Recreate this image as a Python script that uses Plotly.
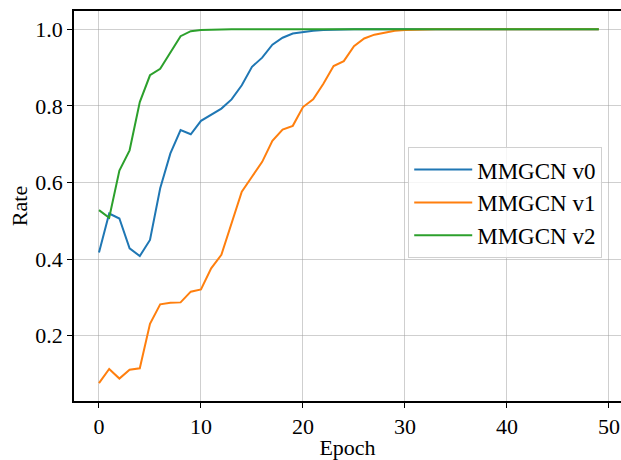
import plotly.graph_objects as go

epochs = list(range(50))

v0 = [0.417, 0.519, 0.506, 0.428, 0.408, 0.45, 0.585, 0.676, 0.737, 0.726,
      0.761, 0.776, 0.793, 0.817, 0.854, 0.902, 0.926, 0.960, 0.978, 0.989,
      0.993, 0.996, 0.998, 0.999] + [1.0] * 26

v1 = [0.076, 0.113, 0.088, 0.111, 0.115, 0.231, 0.282, 0.286, 0.287, 0.315,
      0.321, 0.376, 0.411, 0.493, 0.576, 0.615, 0.654, 0.709, 0.738, 0.748,
      0.797, 0.817, 0.858, 0.904, 0.917, 0.956, 0.976, 0.986, 0.992, 0.996,
      0.998, 0.999] + [1.0] * 18

v2 = [0.528, 0.508, 0.631, 0.684, 0.810, 0.880, 0.897, 0.941, 0.982, 0.995,
      0.998, 0.999] + [1.0] * 38

series = [("MMGCN v0", v0, "#1f77b4"),
          ("MMGCN v1", v1, "#ff7f0e"),
          ("MMGCN v2", v2, "#2ca02c")]

x_ticks = [0, 10, 20, 30, 40, 50]
y_ticks = [0.2, 0.4, 0.6, 0.8, 1.0]

FONT = "Liberation Serif, Times New Roman, serif"

fig = go.Figure()
for name, vals, color in series:
    fig.add_trace(go.Scatter(x=epochs, y=vals, mode="lines", name=name,
                             line=dict(color=color, width=2)))

fig.update_layout(
    width=621, height=460,
    margin=dict(l=74, r=0, t=11, b=59),
    paper_bgcolor="white", plot_bgcolor="white",
    font=dict(family=FONT, size=22, color="black"),
    showlegend=True,
    legend=dict(x=0.611, y=0.651, xanchor="left", yanchor="top",
                bgcolor="rgba(255,255,255,0.8)", bordercolor="#d0d0d0",
                borderwidth=1, font=dict(size=23, family=FONT, color="black"),
                itemwidth=58),
)
fig.update_xaxes(
    range=[-2.45, 51.18], tickvals=x_ticks, ticktext=[str(t) for t in x_ticks],
    showgrid=True, gridcolor="rgba(160,160,160,0.5)", gridwidth=1,
    showline=True, linecolor="black", linewidth=1.5, mirror=True,
    ticks="outside", ticklen=5, tickwidth=1.2, tickcolor="black",
    zeroline=False,
    title=dict(text="Epoch", font=dict(size=22, family=FONT, color="black"), standoff=4),
    tickfont=dict(size=22, family=FONT, color="black"),
)
fig.update_yaxes(
    range=[0.0295, 1.0478], tickvals=y_ticks, ticktext=[f"{t:.1f}" for t in y_ticks],
    showgrid=True, gridcolor="rgba(160,160,160,0.5)", gridwidth=1,
    showline=True, linecolor="black", linewidth=1.5, mirror=False,
    ticks="outside", ticklen=5, tickwidth=1.2, tickcolor="black",
    zeroline=False,
    title=dict(text="Rate", font=dict(size=22, family=FONT, color="black"), standoff=2),
    tickfont=dict(size=22, family=FONT, color="black"),
)

fig.write_html("out.html")
